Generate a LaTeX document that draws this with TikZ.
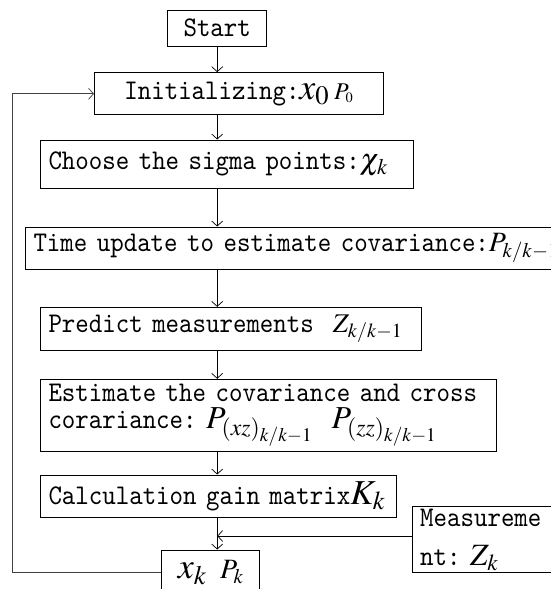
\RequirePackage{fix-cm}
\documentclass[tikz,border=0pt]{standalone}
\usepackage{mathptmx}
\usepackage[no-math]{fontspec}
\setmainfont{lmmono10-regular.otf}[FakeStretch=0.9]
\usetikzlibrary{arrows.meta}
\newcommand{\formula}[2]{{\fontsize{#1}{#1}\selectfont$#2$}}

\begin{document}
\begin{tikzpicture}[
        x=1pt, y=-1pt,
        font=\fontsize{28.5}{23}\selectfont,
        stage/.style={
        draw=black, line width=1pt,
        inner sep=0pt},
        leftstage/.style={stage, anchor=west, align=left, inner xsep=8pt},
        flowarrow/.style={-{Straight Barb[length=5pt,width=11pt]}, line width=0.7pt},
        ]
        \useasboundingbox (0,0) rectangle (550,589);

        \node (start) [stage, minimum width=99pt, minimum height=36pt] at (217.2,28){Start};
        \node (init) [stage, minimum width=288.8pt, minimum height=42.3pt] at (238.9,93.8){Initializing:\formula{36}{x_0}\,\formula{24}{P_{\scriptscriptstyle 0}}};
        \node (choose) [leftstage, text width=356.7pt, minimum height=48pt] at (40,164){\mbox{Choose the sigma points:\formula{30}{\chi_k}}};
        \node (time) [leftstage, text width=534pt, minimum height=42pt] at (25,248){\mbox{Time update to estimate covariance:\formula{28}{P_{k/k-1}}}};
        \node (predict) [leftstage, text width=364.7pt, minimum height=42.7pt] at (40,328.7){\mbox{Predict measurements~~\formula{27}{Z_{k/k-1}}}};
        \node (estim) [leftstage, text width=439.7pt, minimum height=72.4pt] at (40,415.5){\mbox{Estimate the covariance and cross}\\[4pt]\mbox{corariance:~\formula{32}{P_{(xz)_{k/k-1}}}~~\formula{32}{P_{(zz)_{k/k-1}}}}};
        \node (calc) [leftstage, text width=339.7pt, minimum height=42pt] at (40,496){\mbox{Calculation gain matrix\formula{35}{K_k}}};
        \node (meas) [leftstage, text width=152pt, minimum height=65.6pt] at (411.7,539.5){Measureme\\[16pt]nt:~\formula{31}{Z_k}};
        \node (xk) [stage, minimum width=98.3pt, minimum height=45pt] at (210.8,572.5){\formula{36}{x_k}~\formula{28}{P_k}};

        \draw [flowarrow] (start) -- (start |- init.north);
        \draw [flowarrow] (start |- init.south) -- (start |- choose.north);
        \draw [flowarrow] (start |- choose.south) -- (start |- time.north);
        \draw [flowarrow] (start |- time.south) -- (start |- predict.north);
        \draw [flowarrow] (start |- predict.south) -- (start |- estim.north);
        \draw [flowarrow] (start |- estim.south) -- (start |- calc.north);
        \draw [flowarrow] (start |- calc.south) -- (start |- xk.north);
        \draw [flowarrow] ([yshift=3.5pt]meas.west) -- ([yshift=3.5pt]start |- meas.west);
        % feedback to the initial step
        \draw [flowarrow, draw=black!75] (xk.west) -- ++(-149,0) |- (init.west);
\end{tikzpicture}
\end{document}
